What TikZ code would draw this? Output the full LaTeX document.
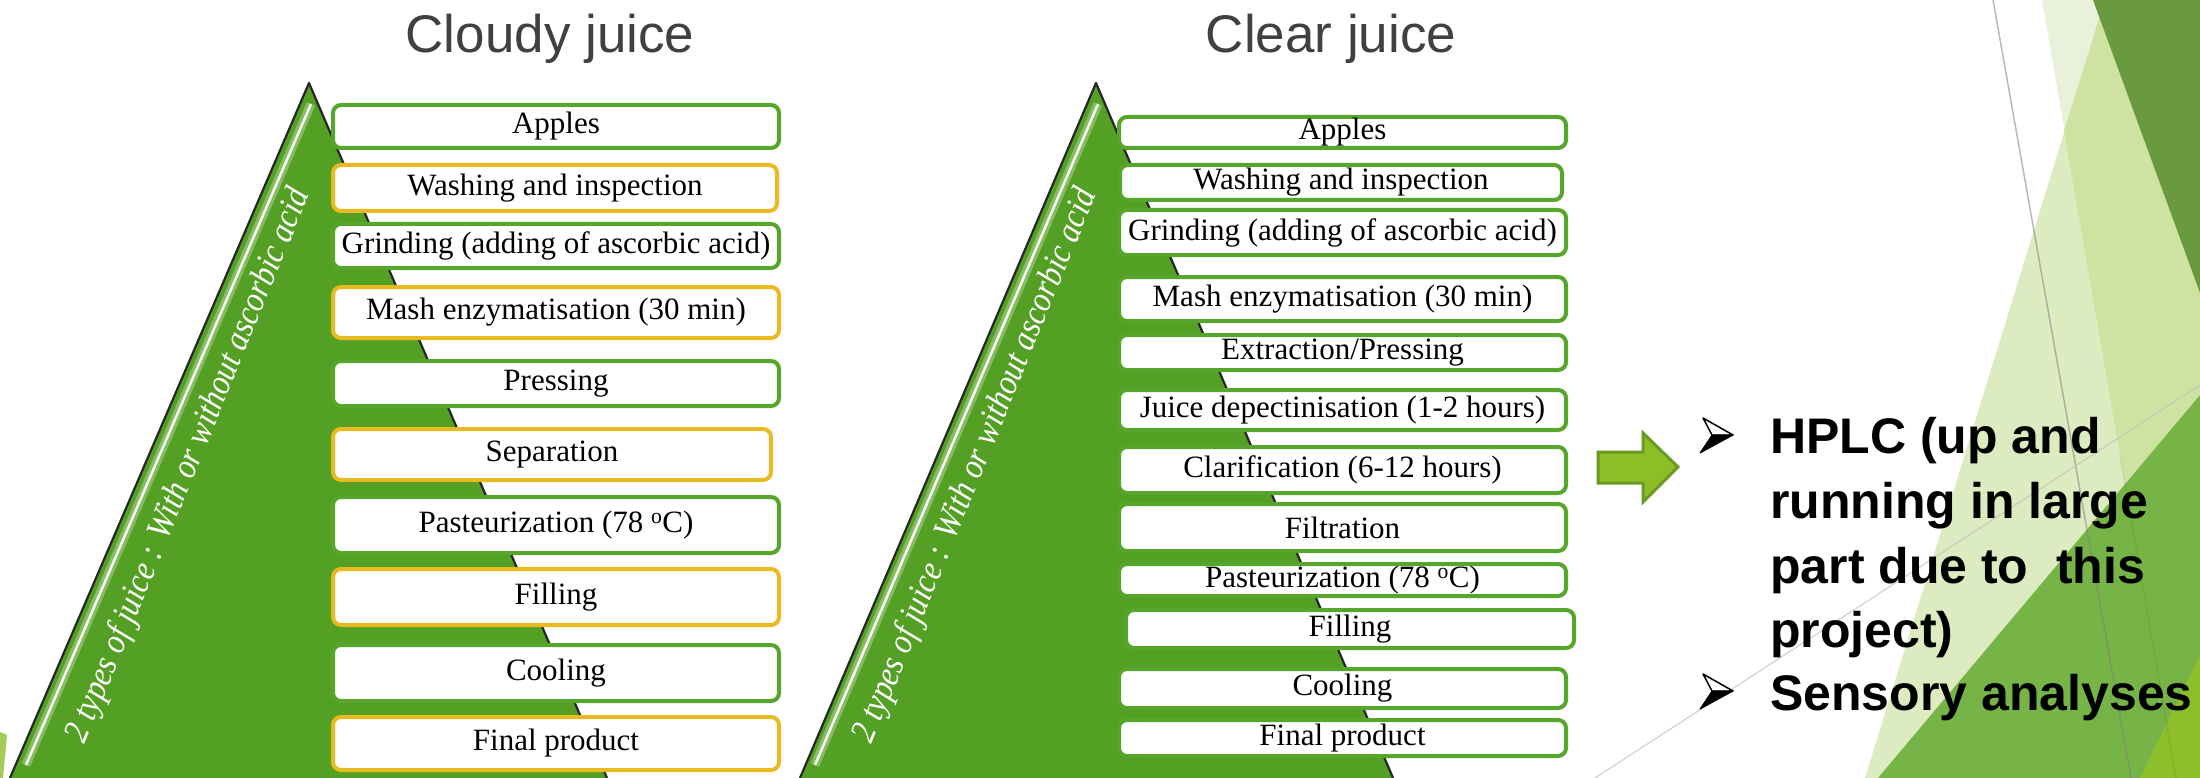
\documentclass[tikz,border=0pt]{standalone}
\usepackage{fontspec}
\setmainfont{Liberation Serif}
\newfontfamily\headfont{Liberation Sans}
\definecolor{pyrgreen}{RGB}{84,160,36}
\definecolor{boxgreen}{RGB}{86,166,44}
\definecolor{boxgold}{RGB}{233,185,32}
\definecolor{titlegray}{RGB}{64,64,64}
\definecolor{arrowfill}{RGB}{141,190,40}
\definecolor{arrowline}{RGB}{107,154,34}
\definecolor{facetA}{RGB}{106,154,64}
\definecolor{facetC}{RGB}{233,241,219}
\definecolor{facetD}{RGB}{221,235,193}
\definecolor{facetCD}{RGB}{206,227,161}
\definecolor{facetE}{RGB}{118,180,71}
\definecolor{facetF}{RGB}{141,190,43}
\newcommand{\sidelabel}{\scalebox{0.93}[1.05]{2 types of juice : With or without ascorbic acid}}
\begin{document}
\begin{tikzpicture}[x=1pt,y=-1pt,
  stepbox/.style={draw, line width=4pt, rounded corners=8pt, fill=white,
    inner sep=0pt, font=\fontsize{31}{36}\selectfont},
  gbox/.style={stepbox, draw=boxgreen},
  ybox/.style={stepbox, draw=boxgold},
  title/.style={font=\headfont\fontsize{53}{60}\selectfont, text=titlegray, anchor=base},
  sidetext/.style={text=white, inner sep=0pt, font=\itshape\fontsize{34}{38}\selectfont},
  bullettext/.style={font=\headfont\bfseries\fontsize{50}{60}\selectfont, anchor=base west, inner sep=0pt},
]
\useasboundingbox (0,0) rectangle (2200,778);
\fill[white] (0,0) rectangle (2200,778);

% ---- decorative facets on the right ----
\fill[facetC]  (2042,0) -- (2200,0) -- (2200,778) -- (2176,778) -- cycle;
\fill[facetD]  (2105,0) -- (2200,0) -- (2200,778) -- (1865,778) -- cycle;
\fill[facetCD] (2105,0) -- (2200,0) -- (2200,778) -- (2176,778) -- (2064,131) -- cycle;
\fill[facetA]  (2093,0) -- (2200,0) -- (2200,293) -- cycle;
\fill[facetE]  (2200,395) -- (2200,778) -- (1878,778) -- cycle;
\fill[facetF]  (2200,655) -- (2200,778) -- (2140,778) -- cycle;
\draw[gray, opacity=0.55, line width=1.5pt] (1993,0) -- (2131,778);
\draw[gray!50, opacity=0.7, line width=1.2pt] (1595,778) -- (2200,385);
\draw[black, opacity=0.06, line width=1.5pt] (2120,455) -- (2176,778);
% small sliver in the lower left corner
\fill[facetF!80!white] (0,732) -- (7,735) -- (3,778) -- (0,778) -- cycle;

% ---- titles ----
\node[title] (tcloudy) at (550,53) {Cloudy juice};
\node[title] (tclear) at (1331,53) {Clear juice};

% ---- pyramids ----
\fill[pyrgreen] (309,83) -- (607,778) -- (10,778) -- cycle;
\draw[black!85, line width=2.2pt, line join=round] (10,778) -- (309,83) -- (607,778);
\draw[white!60!pyrgreen, line width=9pt, opacity=0.5] (311,104) -- (26,765);
\draw[white, line width=2.5pt, opacity=0.9] (311,104) -- (26,765);

\fill[pyrgreen] (1096,83) -- (1393,778) -- (800,778) -- cycle;
\draw[black!85, line width=2.2pt, line join=round] (800,778) -- (1096,83) -- (1393,778);
\draw[white!60!pyrgreen, line width=9pt, opacity=0.5] (1098,104) -- (815,765);
\draw[white, line width=2.5pt, opacity=0.9] (1098,104) -- (815,765);

\node[sidetext, rotate=67.8] (sideL) at (189,466) {\sidelabel};
\node[sidetext, rotate=67.8] (sideR) at (976,466) {\sidelabel};

% ---- cloudy juice steps ----
\node[gbox, minimum width=446, minimum height=43] (c1) at (556,126.5) {Apples};
\node[ybox, minimum width=444, minimum height=46] (c2) at (555,188) {Washing and inspection};
\node[gbox, minimum width=446, minimum height=44] (c3) at (556,246) {Grinding (adding of ascorbic acid)};
\node[ybox, minimum width=446, minimum height=51] (c4) at (556,312.5) {Mash enzymatisation (30 min)};
\node[gbox, minimum width=446, minimum height=45] (c5) at (556,383.5) {Pressing};
\node[ybox, minimum width=438, minimum height=51] (c6) at (552,454.5) {Separation};
\node[gbox, minimum width=446, minimum height=56] (c7) at (556,525) {Pasteurization (78 \textsuperscript{o}C)};
\node[ybox, minimum width=446, minimum height=56] (c8) at (556,597) {Filling};
\node[gbox, minimum width=446, minimum height=56] (c9) at (556,673) {Cooling};
\node[ybox, minimum width=446, minimum height=53] (c10) at (556,743.5) {Final product};

% ---- clear juice steps ----
\node[gbox, minimum width=447, minimum height=31] (k1) at (1342.5,132.5) {Apples};
\node[gbox, minimum width=442, minimum height=35] (k2) at (1341,182.5) {Washing and inspection};
\node[gbox, minimum width=447, minimum height=45] (k3) at (1342.5,232.5) {Grinding (adding of ascorbic acid)};
\node[gbox, minimum width=447, minimum height=44] (k4) at (1342.5,299) {Mash enzymatisation (30 min)};
\node[gbox, minimum width=447, minimum height=35] (k5) at (1342.5,352.5) {Extraction/Pressing};
\node[gbox, minimum width=447, minimum height=40] (k6) at (1342.5,410) {Juice depectinisation (1-2 hours)};
\node[gbox, minimum width=447, minimum height=46] (k7) at (1342.5,470) {Clarification (6-12 hours)};
\node[gbox, minimum width=447, minimum height=47] (k8) at (1342.5,527.5) {Filtration};
\node[gbox, minimum width=447, minimum height=32] (k9) at (1342.5,580) {Pasteurization (78 \textsuperscript{o}C)};
\node[gbox, minimum width=448, minimum height=38] (k10) at (1350,629) {Filling};
\node[gbox, minimum width=447, minimum height=39] (k11) at (1342.5,688.5) {Cooling};
\node[gbox, minimum width=447, minimum height=36] (k12) at (1342.5,738) {Final product};

% ---- result arrow ----
\fill[arrowfill, draw=arrowline, line width=3pt, line join=miter]
  (1598,452) -- (1643,452) -- (1643,433) -- (1678,467) -- (1643,502) -- (1643,483) -- (1598,483) -- cycle;

% ---- bullets ----
\foreach \yb in {418,674} {
  \fill[white, draw=black, line width=1.5pt, line join=round]
    (1703,\yb) -- (1733,\yb+17) -- (1712,\yb+17) -- cycle;
  \fill[black, draw=black, line width=1pt, line join=round]
    (1712,\yb+17) -- (1733,\yb+17) -- (1700,\yb+35) -- cycle;
}
\node[bullettext] (b1) at (1770,453) {HPLC (up and};
\node[bullettext] (b2) at (1770,518) {running in large};
\node[bullettext] (b3) at (1770,583) {part due to \ this};
\node[bullettext] (b4) at (1770,647) {project)};
\node[bullettext] (b5) at (1770,710) {Sensory analyses};
\end{tikzpicture}
\end{document}
